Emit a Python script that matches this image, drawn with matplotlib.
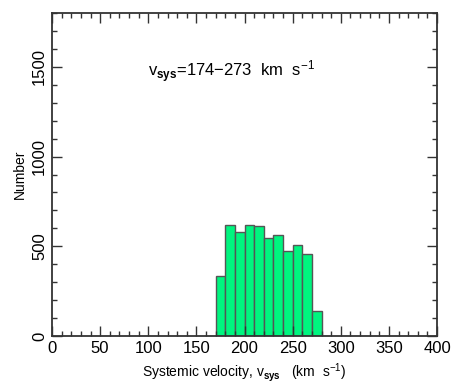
import matplotlib
matplotlib.use("Agg")
import matplotlib.pyplot as plt
from matplotlib.ticker import MultipleLocator

plt.rcParams['font.family'] = ['Liberation Sans', 'DejaVu Sans']
plt.rcParams['mathtext.fontset'] = 'custom'
plt.rcParams['mathtext.rm'] = 'Liberation Sans'
plt.rcParams['mathtext.it'] = 'Liberation Sans'
plt.rcParams['mathtext.bf'] = 'Liberation Sans:bold'

# Histogram of systemic velocities, 10 km/s bins
bin_left = [170, 180, 190, 200, 210, 220, 230, 240, 250, 260, 270]
counts = [335, 620, 578, 620, 612, 548, 565, 472, 505, 457, 140]
bin_width = 10

fig = plt.figure(figsize=(4.53, 3.84), dpi=100)
ax = fig.add_axes([52/453, 48/384, 385/453, 323/384])

ax.bar(bin_left, counts, width=bin_width, align='edge',
       color='#00f57f', edgecolor='#555555', linewidth=1.0)

ax.set_xlim(0, 400)
ax.set_ylim(0, 1800)
ax.xaxis.set_major_locator(MultipleLocator(50))
ax.xaxis.set_minor_locator(MultipleLocator(10))
ax.yaxis.set_major_locator(MultipleLocator(500))
ax.yaxis.set_minor_locator(MultipleLocator(100))
ax.tick_params(which='both', direction='in', top=True, right=True,
               labeltop=False, labelright=False, color='#333333')
ax.tick_params(which='major', length=7, width=1.0, labelsize=12)
ax.tick_params(which='minor', length=3.5, width=1.0)
for lab in ax.get_yticklabels():
    lab.set_rotation(90)
    lab.set_verticalalignment('center')
for sp in ax.spines.values():
    sp.set_linewidth(1.3)
    sp.set_color('#333333')

ax.set_xlabel(r'Systemic velocity, v$_{\mathbf{sys}}$   (km  s$^{-1}$)', fontsize=10, labelpad=4)
ax.set_ylabel('Number', fontsize=10, labelpad=4)

ax.text(100, 1470, r'v$_{\mathbf{sys}}$=174$-$273  km  s$^{-1}$', fontsize=12,
        ha='left', va='center')

fig.savefig('out.png', dpi=100)
